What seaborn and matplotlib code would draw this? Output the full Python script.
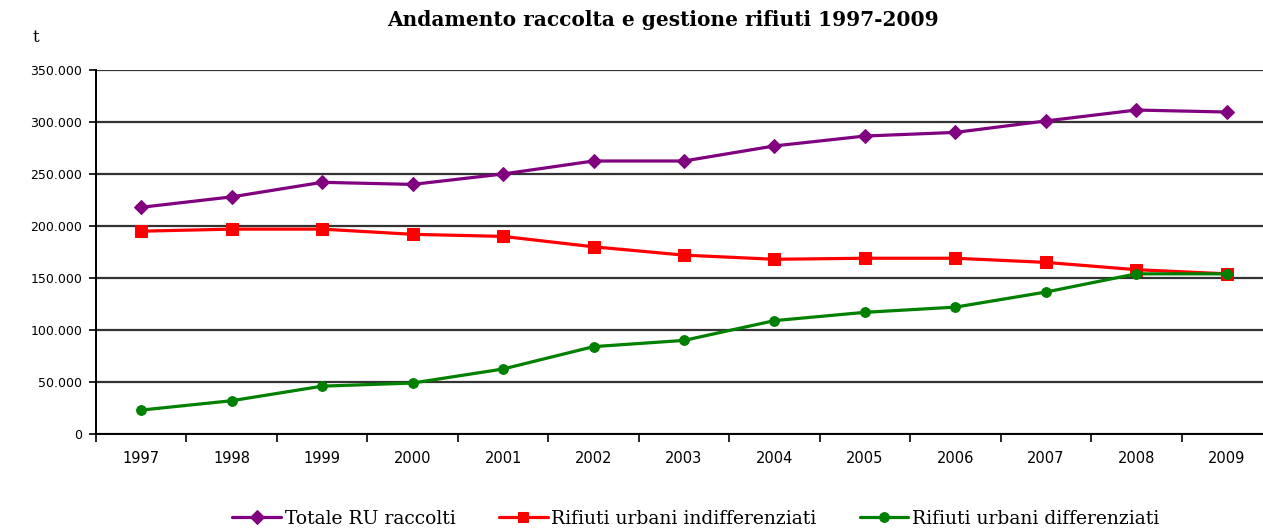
import matplotlib
matplotlib.use("Agg")
import matplotlib.pyplot as plt
import matplotlib.ticker as mticker
import seaborn as sns
import pandas as pd

years = ["1997", "1998", "1999", "2000", "2001", "2002", "2003",
         "2004", "2005", "2006", "2007", "2008", "2009"]
totale = [218000, 228000, 242000, 240000, 250000, 262500, 262500,
          277000, 286500, 290000, 301000, 311500, 309600]
indifferenziati = [195000, 197000, 197000, 192000, 190000, 180000, 172000,
                   168000, 169000, 169000, 165000, 158000, 154000]
differenziati = [23000, 32000, 46000, 49000, 62500, 84000, 90000,
                 109000, 117000, 122000, 136500, 154000, 154000]
series_names = ["Totale RU raccolti", "Rifiuti urbani indifferenziati",
                "Rifiuti urbani differenziati"]

rows = []
for name, vals in zip(series_names, [totale, indifferenziati, differenziati]):
    for i, (y, v) in enumerate(zip(years, vals)):
        rows.append({"pos": i, "anno": y, "valore": v, "serie": name})
df = pd.DataFrame(rows)

sns.set_theme(style="white")
plt.rcParams["font.family"] = ["DejaVu Serif", "DejaVu Sans"]
plt.rcParams["text.color"] = "black"
plt.rcParams["xtick.color"] = "black"
plt.rcParams["ytick.color"] = "black"

fig = plt.figure(figsize=(12.63, 5.28), dpi=100)
ax = fig.add_axes([96 / 1263, 1 - 434 / 528, 1176 / 1263, 364 / 528])

palette = {series_names[0]: "#800080", series_names[1]: "#FF0000",
           series_names[2]: "#008000"}
markers = {series_names[0]: "D", series_names[1]: "s", series_names[2]: "o"}
sizes_m = {series_names[0]: 7, series_names[1]: 9, series_names[2]: 7}

for name in series_names:
    sub = df[df["serie"] == name]
    sns.lineplot(data=sub, x="pos", y="valore", ax=ax, color=palette[name],
                 marker=markers[name], markersize=sizes_m[name],
                 markeredgecolor=palette[name], linewidth=2.3, label=name,
                 zorder=3)

ax.set_xlim(-0.5, 12.5)
ax.set_ylim(0, 350000)
ax.set_yticks(range(0, 350001, 50000))
ax.set_xticks(range(len(years)))
ax.set_xticklabels(years, fontfamily="DejaVu Sans", fontsize=10.5)
ax.set_xticks([i - 0.5 for i in range(len(years) + 1)], minor=True)
ax.tick_params(axis="x", which="major", bottom=True, length=0, pad=12,
               labelcolor="black")
ax.tick_params(axis="x", which="minor", bottom=True, length=6, width=1.2,
               color="black", direction="out")
ax.tick_params(axis="y", which="major", left=True, length=5, width=1.2,
               color="black", direction="out", labelsize=9, pad=5,
               labelcolor="black")
ax.yaxis.set_major_formatter(mticker.FuncFormatter(
    lambda v, p: "0" if v == 0 else f"{int(v):,}".replace(",", ".")))
for lbl in ax.get_yticklabels():
    lbl.set_fontfamily("DejaVu Sans")
ax.yaxis.grid(True, color="#333333", linewidth=1.6)
ax.xaxis.grid(False)
for s in ["top", "right"]:
    ax.spines[s].set_visible(False)
ax.spines["left"].set_color("black")
ax.spines["bottom"].set_color("black")
ax.spines["left"].set_linewidth(1.4)
ax.spines["bottom"].set_linewidth(1.4)
ax.set_xlabel("")
ax.set_ylabel("")

fig.text(663 / 1263, 1 - 20 / 528, "Andamento raccolta e gestione rifiuti 1997-2009",
         ha="center", va="center", fontsize=14.5, fontweight="bold")
fig.text(36 / 1263, 1 - 37 / 528, "t", ha="center", va="center", fontsize=12)

leg = ax.legend(loc="center", bbox_to_anchor=(696 / 1263, 1 - 519 / 528),
                bbox_transform=fig.transFigure, ncol=3, frameon=False,
                fontsize=13.5, handlelength=2.6, columnspacing=2.3,
                handletextpad=0.2)
for h in leg.legend_handles:
    h.set_markersize(7)

fig.savefig("out.png", dpi=100)
